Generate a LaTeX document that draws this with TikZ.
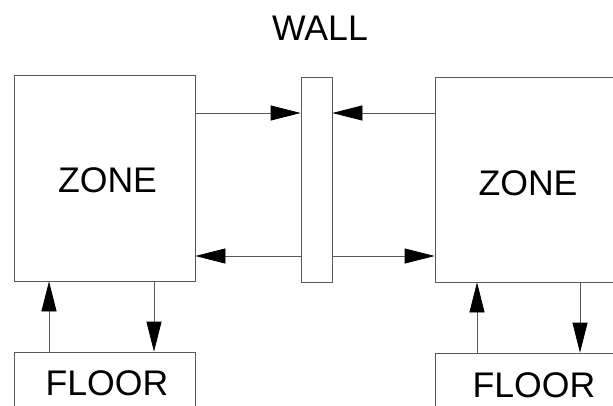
\documentclass[tikz,border=0pt]{standalone}
\usepackage{fontspec}
\setmainfont{Liberation Sans}
\usetikzlibrary{arrows.meta}
\begin{document}
\begin{tikzpicture}[x=1pt,y=-1pt,
  box/.style={draw=black!65,line width=0.7pt,inner sep=0pt},
  lbl/.style={font=\fontsize{35.6}{40}\selectfont,inner sep=0pt,anchor=base},
  arr/.style={draw=black!65,line width=0.7pt,-{Triangle[length=30pt,width=15pt,fill=black,color=black]}}]
\useasboundingbox (0,0) rectangle (613,405);
\clip (0,0) rectangle (613,405);
% boxes
\node[box,minimum width=181pt,minimum height=206pt] (lz) at (104.5,178) {};
\node[box,minimum width=31pt,minimum height=205pt] (wall) at (316.5,179.5) {};
\node[box,minimum width=186pt,minimum height=205pt] (rz) at (528,179.5) {};
\node[box,minimum width=181pt,minimum height=120pt] (lf) at (104.5,412) {};
\node[box,minimum width=186pt,minimum height=120pt] (rf) at (528,413) {};
% labels
\node[lbl] (wl) at (320,40) {WALL};
\node[lbl] (lzt) at (107.5,192) {ZONE};
\node[lbl] (rzt) at (528,195) {ZONE};
\node[lbl] (lft) at (107,395) {FLOOR};
\node[lbl] (rft) at (534,397) {FLOOR};
% coordinates for arrow rows
\coordinate (r1) at (0,113);
\coordinate (r2) at (0,256);
\coordinate (c1) at (49,0);
\coordinate (c2) at (154,0);
\coordinate (c3) at (477,0);
\coordinate (c4) at (580,0);
% horizontal arrows
\draw[arr] (lz.east |- r1) -- (wall.west |- r1);
\draw[arr] (rz.west |- r1) -- (wall.east |- r1);
\draw[arr] (wall.west |- r2) -- (lz.east |- r2);
\draw[arr] (wall.east |- r2) -- (rz.west |- r2);
% vertical arrows
\draw[arr] (lf.north -| c1) -- (lz.south -| c1);
\draw[arr] (lz.south -| c2) -- (lf.north -| c2);
\draw[arr] (rf.north -| c3) -- (rz.south -| c3);
\draw[arr] (rz.south -| c4) -- (rf.north -| c4);
\end{tikzpicture}
\end{document}
